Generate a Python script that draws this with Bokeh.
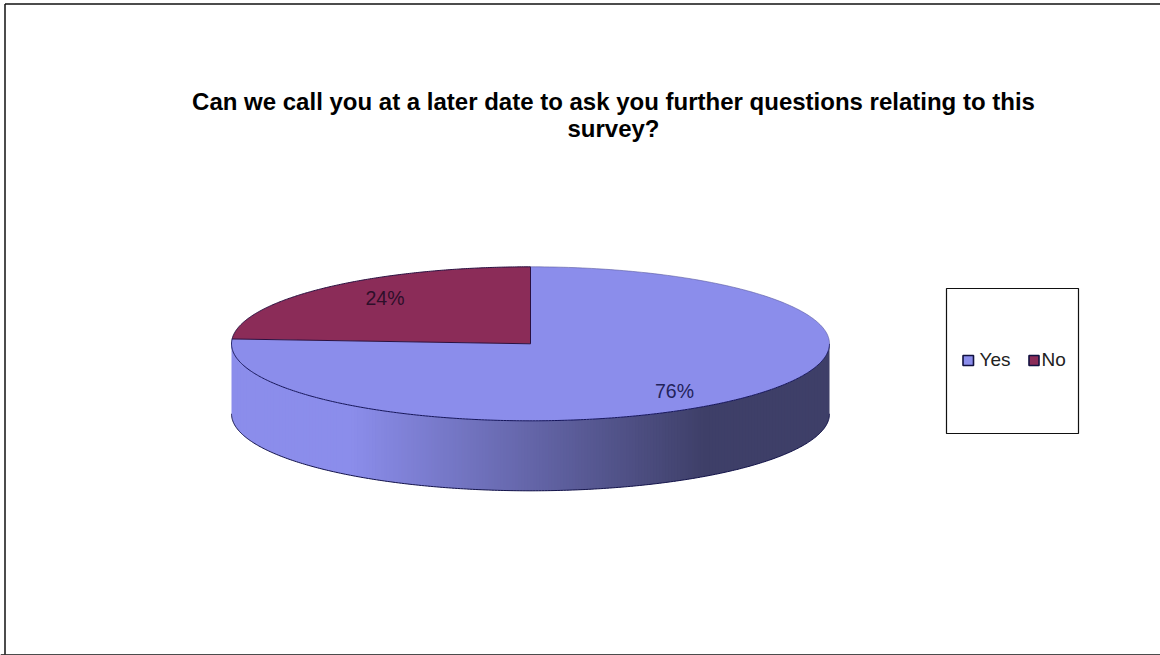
import numpy as np
from bokeh.plotting import figure
from bokeh.models import Range1d
from bokeh.core.properties import value
from bokeh.embed import file_html
from bokeh.resources import INLINE

categories = ["Yes", "No"]
shares = [76, 24]
labels = ["76%", "24%"]
title_lines = ["Can we call you at a later date to ask you further questions relating to this", "survey?"]
colors = ["#8B8DEB", "#8B2C58"]

W, H = 1160, 655
p = figure(width=W, height=H, x_range=Range1d(0, W), y_range=Range1d(H, 0),
           output_backend="svg", toolbar_location=None, min_border=0,
           outline_line_color=None, background_fill_color="white",
           border_fill_color="white")
p.axis.visible = False
p.grid.visible = False

cx, cy, rx, ry, depth = 530.0, 343.3, 299.0, 77.0, 70.0

def ell(theta, off=0.0):
    return cx + rx * np.sin(theta), cy - ry * np.cos(theta) + off

def side_color(x):
    light = np.array([0x8B, 0x8D, 0xEB], float)
    dark = np.array([0x3E, 0x3F, 0x68], float)
    t = np.clip((x - 350.0) / (705.0 - 350.0), 0, 1)
    c = light + (dark - light) * t
    return "#%02X%02X%02X" % tuple(int(round(v)) for v in c)

def front_y(x, off=0.0):
    u = np.clip((x - cx) / rx, -1, 1)
    return cy + ry * np.sqrt(1 - u * u) + off

strip_edges = np.linspace(cx - rx, cx + rx, 201)
xs, ys, cs = [], [], []
for a, b in zip(strip_edges[:-1], strip_edges[1:]):
    b2 = min(b + 1.5, cx + rx)
    sx = np.linspace(a, b2, 6)
    xs.append(np.r_[sx, sx[::-1]])
    ys.append(np.r_[front_y(sx), front_y(sx[::-1], depth)])
    cs.append(side_color((a + b) / 2))
p.patches(xs, ys, fill_color=cs, line_color=None)

frac = np.array(shares, float) / sum(shares)
start = 0.0
for f, col in zip(frac, colors):
    th = np.linspace(start, start + f * 2 * np.pi, 300)
    x, y = ell(th)
    p.patch(np.r_[cx, x], np.r_[cy, y], fill_color=col, line_color=None)
    start += f * 2 * np.pi

split = frac[0] * 2 * np.pi
th_no = np.linspace(split, 2 * np.pi, 200)
x, y = ell(th_no)
p.line(np.r_[cx, x, cx], np.r_[cy, y, cy], line_color="#2A1040", line_width=1)
th_front = np.linspace(np.pi / 2, split, 300)
x, y = ell(th_front)
p.line(x, y, line_color="#14145A", line_width=1)
th_back = np.linspace(0, np.pi / 2, 100)
x, y = ell(th_back)
p.line(x, y, line_color="#5A5AA0", line_width=0.6)
th_bot = np.linspace(np.pi / 2, 3 * np.pi / 2, 300)
x, y = ell(th_bot, depth)
p.line(x, y, line_color="#14144A", line_width=1)

p.text([674], [390], text=[labels[0]], text_font=value("Liberation Sans"),
       text_font_size="19.5px", text_color="#23235A", text_align="center", text_baseline="middle")
p.text([384.5], [297], text=[labels[1]], text_font=value("Liberation Sans"),
       text_font_size="19.5px", text_color="#2E0F2A", text_align="center", text_baseline="middle")

p.text([613, 613], [101, 128], text=title_lines, text_font=value("Liberation Sans"),
       text_font_style="bold", text_font_size="24px", text_color="black",
       text_align="center", text_baseline="middle")

p.quad(left=[946], right=[1078], top=[288], bottom=[433], fill_color="white",
       line_color="#111111", line_width=1.2)
p.quad(left=[962.5, 1028.5], right=[973, 1038.5], top=[355, 355], bottom=[365, 365],
       fill_color=colors, line_color="#111140", line_width=1.6)
p.text([979, 1041], [359, 359], text=categories, text_font=value("Liberation Sans"),
       text_font_size="19px", text_color="#222222", text_align="left", text_baseline="middle")

p.line([4.5, 4.5], [654, 3.5], line_color="#111111", line_width=1.5)
p.line([4.5, W], [3.5, 3.5], line_color="#111111", line_width=1.5)
p.line([0, W], [654.5, 654.5], line_color="#111111", line_width=1.5)

open("out.html", "w").write(file_html(p, INLINE))
